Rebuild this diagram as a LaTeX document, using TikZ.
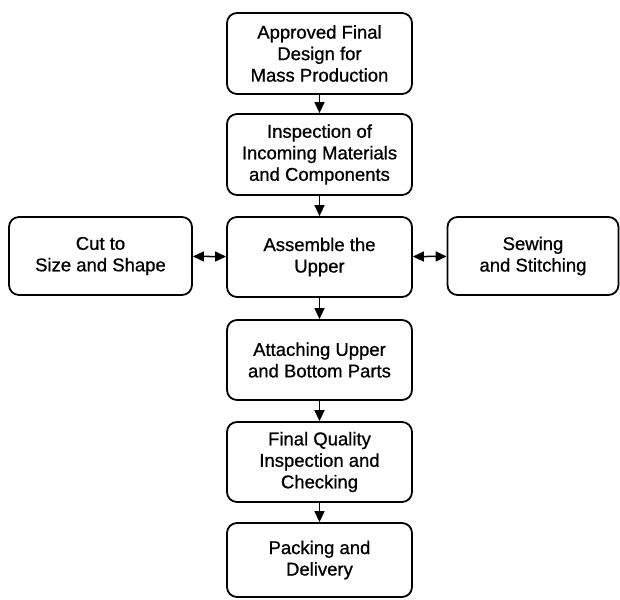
\documentclass[tikz,border=0pt]{standalone}
\usepackage{fontspec}
\setmainfont[FakeBold=0.8]{Liberation Sans}
\usetikzlibrary{arrows.meta}
\begin{document}
\begin{tikzpicture}[x=1pt,y=-1pt,
  box/.style={draw, line width=1.8pt, rounded corners=10pt, align=center,
    inner sep=2pt, font=\fontsize{18.5}{21.5}\selectfont},
  mainbox/.style={box, minimum width=185pt, minimum height=80pt},
  arr/.style={line width=1.5pt, -{Triangle[length=11pt,width=10pt]}},
  darr/.style={line width=1.5pt, {Triangle[length=11pt,width=10pt]}-{Triangle[length=11pt,width=10pt]}}]
\useasboundingbox (0,0) rectangle (620,599);
\node[mainbox, minimum height=81pt] (a) at (319.5,53.5) {Approved Final\\Design for\\Mass Production};
\node[mainbox, minimum height=81pt] (b) at (319.5,154.5) {Inspection of\\Incoming Materials\\and Components};
\node[mainbox] (c) at (319.5,257) {Assemble the\\Upper};
\node[box, minimum width=183pt, minimum height=78pt] (l) at (100.5,256) {Cut to\\Size and Shape};
\node[box, minimum width=171pt, minimum height=78pt] (r) at (533,256) {Sewing\\and Stitching};
\node[mainbox] (d) at (319.5,360) {Attaching Upper\\and Bottom Parts};
\node[mainbox] (e) at (319.5,462) {Final Quality\\Inspection and\\Checking};
\node[mainbox, minimum height=74pt] (f) at (319.5,560) {Packing and\\Delivery};
\draw[arr] (a) -- (b);
\draw[arr] (b) -- (c);
\draw[arr] (c) -- (d);
\draw[arr] (d) -- (e);
\draw[arr] (e) -- (f);
\draw[darr] (l) -- (c);
\draw[darr] (c) -- (r);
\end{tikzpicture}
\end{document}
